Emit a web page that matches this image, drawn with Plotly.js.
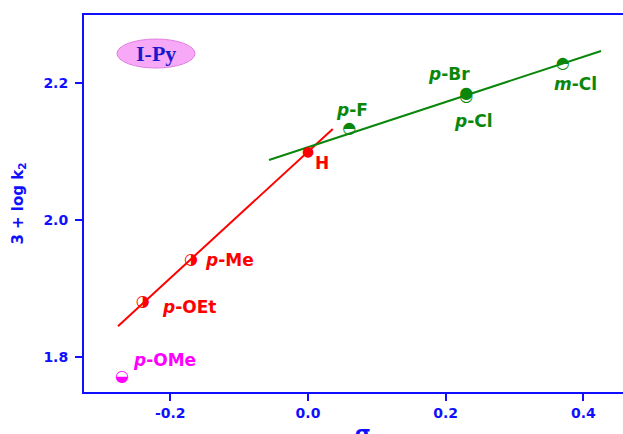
<!DOCTYPE html>
<html>
<head>
<meta charset="utf-8">
<script src="https://cdn.plot.ly/plotly-3.0.1.min.js"></script>
<style>html,body{margin:0;padding:0;background:#fff;}#chart{width:623px;height:434px;}</style>
</head>
<body>
<div id="chart"></div>
<script>
// Substituents, Hammett sigma and 3 + log k2
const substituents = ['p-OMe', 'p-OEt', 'p-Me', 'H', 'p-F', 'p-Cl', 'p-Br', 'm-Cl'];
const sigma = [-0.27, -0.24, -0.17, 0.00, 0.06, 0.23, 0.23, 0.37];
const logk = [1.771, 1.880, 1.942, 2.099, 2.133, 2.179, 2.184, 2.228];
const glyphs = ['\u25D2', '\u25D1', '\u25D1', '\u25CF', '\u25D3', '\u25CB', '\u25CF', '\u25D3'];
const glyphSizes = [16, 16, 16, 14, 16, 16, 16, 16];
const pointColors = ['#ff00ff', '#ff0000', '#ff0000', '#ff0000', '#0a870a', '#0a870a', '#0a870a', '#0a870a'];

// label texts and positions
const labelText = ['<i>p</i>-OMe', '<i>p</i>-OEt', '<i>p</i>-Me', 'H', '<i>p</i>-F', '<i>p</i>-Cl', '<i>p</i>-Br', '<i>m</i>-Cl'];
const labelX = [-0.2077, -0.1728, -0.1133, 0.0203, 0.0639, 0.2397, 0.2048, 0.3878];
const labelY = [1.7956, 1.873, 1.9416, 2.0832, 2.1606, 2.1445, 2.2131, 2.1985];

// fitted lines
const redFitX = [-0.276, 0.036];
const redFitY = [1.845, 2.133];
const greenFitX = [-0.0566, 0.4256];
const greenFitY = [2.0876, 2.2467];

const blue = '#1010ff';

const traces = [
  {x: redFitX, y: redFitY, mode: 'lines', line: {color: '#ff0000', width: 2}, hoverinfo: 'skip'},
  {x: greenFitX, y: greenFitY, mode: 'lines', line: {color: '#0a870a', width: 2}, hoverinfo: 'skip'},
  {x: sigma, y: logk, mode: 'text', text: glyphs, textposition: 'middle center',
   textfont: {family: 'DejaVu Sans', size: glyphSizes, color: pointColors}, hoverinfo: 'skip'}
];

const annotations = labelText.map((t, i) => ({
  x: labelX[i], y: labelY[i], xref: 'x', yref: 'y', text: t, showarrow: false,
  font: {family: 'DejaVu Sans', size: 17, weight: 'bold', color: pointColors[i]},
  xanchor: 'center', yanchor: 'middle'
}));
annotations.push({
  x: -0.2207, y: 2.2435, xref: 'x', yref: 'y', text: 'I-Py', showarrow: false,
  font: {family: 'Liberation Serif', size: 22, weight: 'bold', color: '#1a1acc'},
  xanchor: 'center', yanchor: 'middle'
});
annotations.push({
  x: 0.5176, y: -0.071, xref: 'paper', yref: 'paper', text: '\u03C3', showarrow: false,
  font: {family: 'DejaVu Sans', size: 20, weight: 'bold', color: blue},
  xanchor: 'center', yanchor: 'top'
});

const layout = {
  width: 623, height: 434,
  margin: {l: 84, r: 0, t: 15, b: 42},
  paper_bgcolor: '#ffffff', plot_bgcolor: '#ffffff',
  showlegend: false,
  xaxis: {
    range: [-0.3253, 0.4575], showgrid: false, zeroline: false,
    tickvals: [-0.2, 0.0, 0.2, 0.4], ticktext: ['-0.2', '0.0', '0.2', '0.4'],
    ticks: 'outside', ticklen: 7, tickwidth: 2, tickcolor: blue,
    showline: true, linecolor: blue, linewidth: 2, mirror: true,
    tickfont: {family: 'DejaVu Sans', size: 14, weight: 'bold', color: blue}
  },
  yaxis: {
    range: [1.7489, 2.2993], showgrid: false, zeroline: false,
    tickvals: [1.8, 2.0, 2.2], ticktext: ['1.8', '2.0', '2.2'],
    ticks: 'outside', ticklen: 7, tickwidth: 2, tickcolor: blue,
    ticklabelstandoff: 4,
    showline: true, linecolor: blue, linewidth: 2, mirror: false,
    tickfont: {family: 'DejaVu Sans', size: 14, weight: 'bold', color: blue},
    title: {text: '3 + log k<sub>2</sub>', standoff: 16,
      font: {family: 'DejaVu Sans', size: 15, weight: 'bold', color: blue}}
  },
  shapes: [{
    type: 'circle', xref: 'x', yref: 'y',
    x0: -0.2774, x1: -0.1641, y0: 2.2219, y1: 2.2642,
    fillcolor: '#f7a8f7', line: {color: '#e27ee2', width: 1}, layer: 'below'
  }],
  annotations: annotations
};

Plotly.newPlot('chart', traces, layout, {displayModeBar: false, staticPlot: true});
</script>
</body>
</html>
